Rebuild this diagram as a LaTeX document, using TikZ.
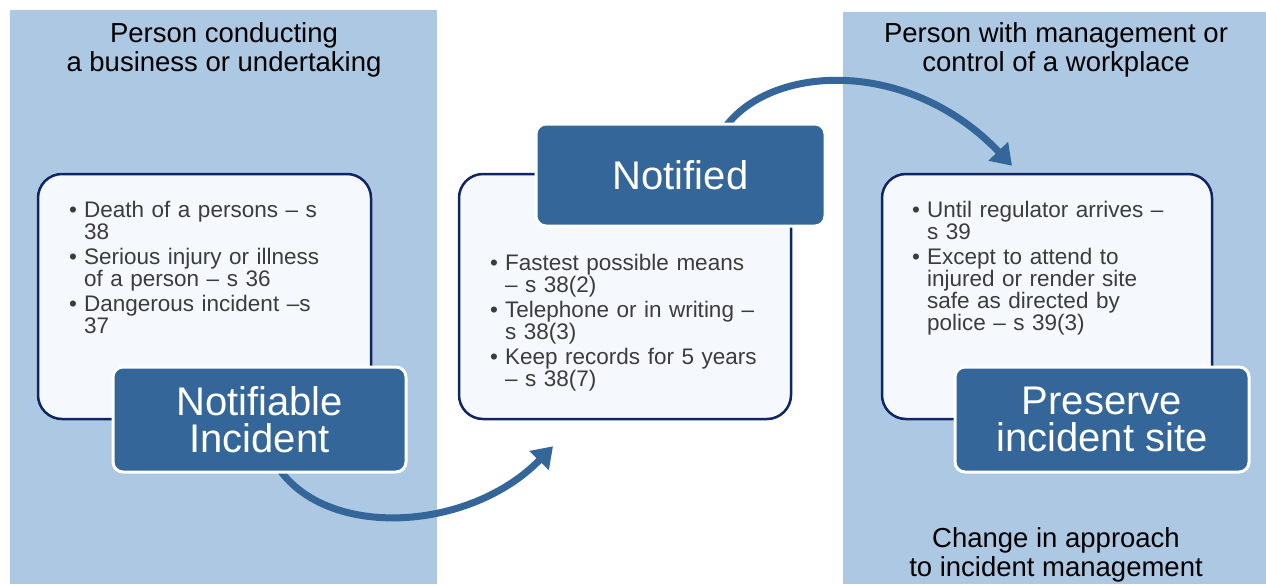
\documentclass[tikz,border=0pt]{standalone}
\usepackage{fontspec}
\setmainfont{Liberation Sans}
\usepackage{xcolor}
\usepackage{tikz}
\usetikzlibrary{arrows.meta,shapes,positioning,backgrounds}
\definecolor{panelblue}{RGB}{173, 200, 227}
\definecolor{midblue}{RGB}{52, 102, 153}
\definecolor{navy}{RGB}{16, 38, 100}
\definecolor{paleblue}{RGB}{245, 248, 252}
\definecolor{textgrey}{RGB}{60, 60, 60}

\newcommand{\bitem}[1]{\par\hangindent=15pt\hangafter=1\noindent\hbox to 15pt{\textbullet\hfil}{\let\\\newline #1}\par}

\begin{document}
\begin{tikzpicture}[x=1pt, y=-1pt,
    infobox/.style={draw=navy, line width=2.5pt, fill=paleblue, rounded corners=24pt, minimum height=245pt},
    stagebox/.style={draw=white, line width=3pt, fill=midblue, rounded corners=10pt, text=white, align=center, inner sep=0pt, font=\fontsize{40}{37}\selectfont},
    points/.style={anchor=north west, text width=310pt, align=left, inner sep=0pt, text=textgrey, font=\fontsize{22.5}{22}\selectfont, execute at begin node={\setlength{\parskip}{3pt}}},
    heading/.style={align=center, font=\fontsize{27.5}{29}\selectfont},
    flow/.style={midblue, line width=7pt, -{Triangle[length=20pt,width=26pt]}}]
            \useasboundingbox (0,0) rectangle (1266,584);

            % Columns
            \begin{scope}[on background layer]
                \fill[panelblue] (10,10) rectangle (437,584);
                \fill[panelblue] (843,12) rectangle (1266,584);
            \end{scope}

            \node[heading] (pcbu) at (224,50) {Person conducting\\a business or undertaking};
            \node[heading] (pcmw) at (1056,50) {Person with management or\\control of a workplace};
            \node[heading] (change) at (1056,555) {Change in approach\\to incident management};

            % Left
            \node[infobox, minimum width=333pt] (incbox) at (204.5,296.5) {};
            \node[points] (incpts) at (69,192) {%
                \bitem{Death of a persons – s\\38}
                \bitem{Serious injury or illness\\of a person – s 36}
                \bitem{Dangerous incident –s\\37}};
            \node[stagebox, minimum width=293pt, minimum height=105pt] (inc) at (259.5,419.5) {Notifiable\\Incident};

            % Middle
            \node[infobox, minimum width=332pt] (notebox) at (625,296.5) {};
            \node[points] (notepts) at (490,245) {%
                \bitem{Fastest possible means\\– s 38(2)}
                \bitem{Telephone or in writing –\\s 38(3)}
                \bitem{Keep records for 5 years\\– s 38(7)}};
            \node[stagebox, minimum width=289pt, minimum height=102pt] (ntf) at (680.5,175) {Notified};

            % Right
            \node[infobox, minimum width=330pt] (sitebox) at (1047,296.5) {};
            \node[points] (sitepts) at (912,192) {%
                \bitem{Until regulator arrives –\\s 39}
                \bitem{Except to attend to\\injured or render site\\safe as directed by\\police – s 39(3)}};
            \node[stagebox, minimum width=294pt, minimum height=105pt] (site) at (1102,419.5) {Preserve\\incident site};

            % Arrows
            \coordinate (aEnd) at ([xshift=-72pt,yshift=-26pt]notebox.south);
            \coordinate (bEnd) at ([xshift=-35pt,yshift=7pt]sitebox.north);
            \begin{scope}[on background layer]
                \draw[flow] ([xshift=20pt,yshift=4pt]inc.south) .. controls +(50,70) and +(-83,85) .. (aEnd);
                \draw[flow] ([xshift=46pt,yshift=-3pt]ntf.north) .. controls +(48,-62) and +(-102,-107) .. (bEnd);
            \end{scope}
        \end{tikzpicture}
\end{document}
